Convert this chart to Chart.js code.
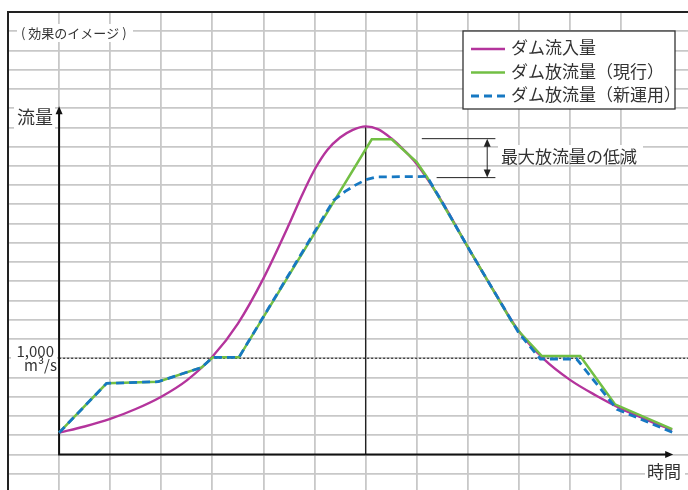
<!DOCTYPE html>
<html>
<head>
<meta charset="utf-8">
<script src="https://cdn.jsdelivr.net/npm/chart.js@4/dist/chart.umd.min.js"></script>
<style>
  html, body { margin: 0; padding: 0; background: #fff; }
  #wrap { width: 688px; height: 490px; }
</style>
</head>
<body>
<div id="wrap"><canvas id="damChart" width="688" height="490"></canvas></div>
<script>
// 時間（目盛1つ = 1）と流量（目盛1つ = 200 m3/s）
const inflowTime = [0, 0.5, 1, 1.5, 2, 2.5, 3, 3.5, 4, 4.5, 4.75, 5, 5.25, 5.5, 5.75, 6, 6.25, 6.5, 6.75, 7, 7.5, 8, 8.5, 9, 9.5, 10, 10.5, 11, 11.5, 12];
const inflow = [226, 290, 369, 472, 600, 770, 1015, 1360, 1830, 2390, 2690, 2960, 3165, 3295, 3375, 3411, 3380, 3287, 3165, 3020, 2622, 2155, 1708, 1280, 985, 775, 615, 475, 360, 254];

const currentTime = [0, 0.93, 1.94, 2.79, 3.01, 3.52, 6.12, 6.51, 7.0, 7.2, 7.98, 8.86, 9.03, 9.45, 10.2, 10.88, 12];
const currentOutflow = [226, 739, 756, 905, 1009, 1009, 3276, 3276, 3040, 2885, 2175, 1379, 1262, 1023, 1023, 521, 262];

const newTime = [0, 0.93, 1.94, 2.79, 3.01, 3.52, 5.37, 5.6, 5.8, 6.0, 6.22, 7.2, 7.5, 8, 8.5, 9, 9.42, 10.13, 10.92, 12];
const newOutflow = [226, 739, 756, 905, 1009, 1009, 2640, 2735, 2800, 2855, 2885, 2890, 2622, 2155, 1708, 1262, 992, 992, 469, 230];

const seriesNames = ['ダム流入量', 'ダム放流量（現行）', 'ダム放流量（新運用）'];
const refFlow = 1000;      // 1,000 m3/s の点線
const peakTime = 6;        // ピーク時刻の縦線

const toPoints = (xs, ys) => xs.map((x, i) => ({ x: x, y: ys[i] }));

const FONT = '"Noto Sans CJK JP", "Noto Sans", sans-serif';
const TEXT = '#333';

function arrowHead(ctx, x, y, dir) {
    const l = 8, w = 3.5;
    ctx.beginPath();
    if (dir === 'up') {
        ctx.moveTo(x, y); ctx.lineTo(x - w, y + l); ctx.lineTo(x + w, y + l);
    } else if (dir === 'down') {
        ctx.moveTo(x, y); ctx.lineTo(x - w, y - l); ctx.lineTo(x + w, y - l);
    } else {
        ctx.moveTo(x, y); ctx.lineTo(x - l, y - w); ctx.lineTo(x - l, y + w);
    }
    ctx.closePath();
    ctx.fill();
}

function boxText(ctx, text, x, y, align, font, box) {
    if (box) {
        ctx.fillStyle = '#fff';
        ctx.fillRect(box[0], box[1], box[2], box[3]);
    }
    ctx.font = font;
    ctx.fillStyle = TEXT;
    ctx.textAlign = align;
    ctx.textBaseline = 'middle';
    ctx.fillText(text, x, y);
}

const overlay = {
    id: 'overlay',
    beforeDatasetsDraw(chart) {
        const { ctx, chartArea: a, scales: { x, y } } = chart;
        ctx.save();
        // 外枠（上・左）
        ctx.strokeStyle = '#222';
        ctx.lineWidth = 2;
        ctx.beginPath();
        ctx.moveTo(a.left, chart.height);
        ctx.lineTo(a.left, a.top);
        ctx.lineTo(a.right, a.top);
        ctx.stroke();

        const x0 = x.getPixelForValue(0), y0 = y.getPixelForValue(0);

        // 1,000 m3/s 点線
        const yr = y.getPixelForValue(refFlow);
        ctx.strokeStyle = '#111';
        ctx.lineWidth = 1;
        ctx.setLineDash([2, 2]);
        ctx.beginPath();
        ctx.moveTo(x0, yr);
        ctx.lineTo(a.right, yr);
        ctx.stroke();
        ctx.setLineDash([]);

        // ピークの縦線
        const xp = x.getPixelForValue(peakTime);
        ctx.strokeStyle = '#222';
        ctx.lineWidth = 1.3;
        ctx.beginPath();
        ctx.moveTo(xp, y.getPixelForValue(3411));
        ctx.lineTo(xp, y0);
        ctx.stroke();

        // 軸
        ctx.strokeStyle = '#111';
        ctx.fillStyle = '#111';
        ctx.lineWidth = 2;
        const yTop = y.getPixelForValue(3620);
        const xEnd = x.getPixelForValue(12.02);
        ctx.beginPath();
        ctx.moveTo(x0, yTop + 6);
        ctx.lineTo(x0, y0);
        ctx.lineTo(xEnd - 6, y0);
        ctx.stroke();
        arrowHead(ctx, x0, yTop, 'up');
        arrowHead(ctx, xEnd, y0, 'right');

        // ラベル
        boxText(ctx, '( 効果のイメージ )', 21, 33, 'left', '13px ' + FONT, [17, 24, 116, 18]);
        boxText(ctx, '流量', 17, 117, 'left', '18px ' + FONT, [14, 105, 41, 24]);
        ctx.fillStyle = '#fff';
        ctx.fillRect(11, 343, 46, 32);
        boxText(ctx, '1,000', 54, 351, 'right', '15px ' + FONT);
        boxText(ctx, 'm³/s', 57, 365, 'right', '15px ' + FONT);
        boxText(ctx, '時間', 647, 472, 'left', '17px ' + FONT, [645, 462, 40, 22]);
        ctx.restore();
    },
    afterDatasetsDraw(chart) {
        const { ctx, scales: { x, y } } = chart;
        ctx.save();
        // 最大放流量の低減
        const yHi = y.getPixelForValue(3283), yLo = y.getPixelForValue(2878);
        const xr = x.getPixelForValue(8.54);
        ctx.strokeStyle = '#222';
        ctx.fillStyle = '#222';
        ctx.lineWidth = 1;
        ctx.beginPath();
        ctx.moveTo(x.getPixelForValue(7.1), yHi); ctx.lineTo(xr, yHi);
        ctx.moveTo(x.getPixelForValue(7.39), yLo); ctx.lineTo(xr, yLo);
        const xa = x.getPixelForValue(8.38);
        ctx.moveTo(xa, yHi + 5); ctx.lineTo(xa, yLo - 5);
        ctx.stroke();
        arrowHead(ctx, xa, yHi, 'up');
        arrowHead(ctx, xa, yLo, 'down');
        boxText(ctx, '最大放流量の低減', 501, 157, 'left', '17px ' + FONT, [498, 145, 145, 8]);

        // 凡例
        ctx.fillStyle = '#fff';
        ctx.fillRect(463, 31, 212, 78);
        ctx.strokeStyle = '#333';
        ctx.lineWidth = 1.3;
        ctx.strokeRect(463, 31, 212, 78);
        const rows = [48, 71.5, 95];
        chart.data.datasets.forEach((ds, i) => {
            ctx.strokeStyle = ds.borderColor;
            ctx.lineWidth = ds.borderWidth;
            ctx.setLineDash(ds.borderDash || []);
            ctx.beginPath();
            ctx.moveTo(471, rows[i] + 1);
            ctx.lineTo(505, rows[i] + 1);
            ctx.stroke();
            ctx.setLineDash([]);
            boxText(ctx, ds.label, 511, rows[i], 'left', '17px ' + FONT);
        });
        ctx.restore();
    }
};

const gridColor = '#c8c8c8';

new Chart(document.getElementById('damChart'), {
    type: 'line',
    data: {
        datasets: [
            {
                label: seriesNames[0],
                data: toPoints(inflowTime, inflow),
                borderColor: '#b4349c',
                borderWidth: 2.4,
                cubicInterpolationMode: 'monotone',
                order: 2
            },
            {
                label: seriesNames[1],
                data: toPoints(currentTime, currentOutflow),
                borderColor: '#72bf44',
                borderWidth: 2.5,
                tension: 0,
                order: 1
            },
            {
                label: seriesNames[2],
                data: toPoints(newTime, newOutflow),
                borderColor: '#1678c2',
                borderWidth: 2.8,
                borderDash: [8, 5],
                tension: 0,
                order: 0
            }
        ]
    },
    options: {
        responsive: false,
        animation: false,
        layout: { padding: { left: 8, top: 12, right: 0, bottom: 0 } },
        elements: { point: { radius: 0 } },
        plugins: {
            legend: { display: false },
            tooltip: { enabled: false }
        },
        scales: {
            x: {
                type: 'linear',
                min: -1,
                max: 12.31,
                ticks: { display: false, stepSize: 1 },
                grid: {
                    color: c => Number.isInteger(c.tick.value) && c.tick.value > -1 ? gridColor : 'rgba(0,0,0,0)',
                    lineWidth: 1.8,
                    drawTicks: false
                },
                border: { display: false }
            },
            y: {
                type: 'linear',
                min: -370,
                max: 4600,
                ticks: { display: false },
                afterBuildTicks: scale => {
                    const ticks = [];
                    for (let v = -200; v < 4600; v += 200) ticks.push({ value: v });
                    scale.ticks = ticks;
                },
                grid: {
                    color: gridColor,
                    lineWidth: 1.8,
                    drawTicks: false
                },
                border: { display: false }
            }
        }
    },
    plugins: [overlay]
});
</script>
</body>
</html>
